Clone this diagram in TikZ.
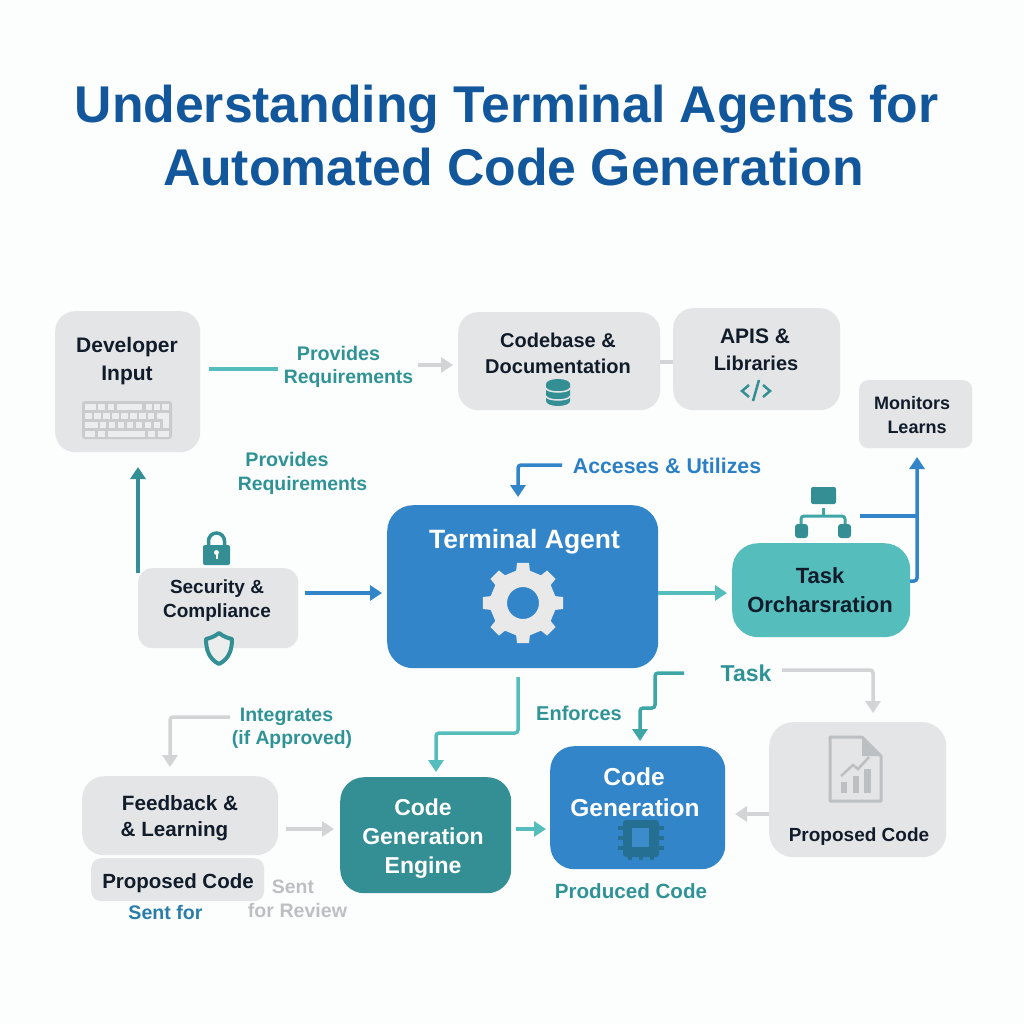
\documentclass[tikz,border=0pt]{standalone}
\usepackage{fontspec}
\setmainfont{Liberation Sans}
\usetikzlibrary{arrows.meta,positioning,calc}
\definecolor{titleblue}{HTML}{12579B}
\definecolor{boxgrey}{HTML}{E4E5E6}
\definecolor{ink}{HTML}{111C2B}
\definecolor{blueA}{HTML}{3285C8}
\definecolor{tealL}{HTML}{55BDBB}
\definecolor{tealM}{HTML}{3FA6A8}
\definecolor{tealD}{HTML}{338F94}
\definecolor{labT}{HTML}{2F9396}
\definecolor{labB}{HTML}{2A7FC6}
\definecolor{labS}{HTML}{2A7DAB}
\definecolor{arrG}{HTML}{D2D4D6}
\definecolor{iconG}{HTML}{BDC0C3}
\definecolor{keyB}{HTML}{C9CBCD}
\definecolor{keyL}{HTML}{ECEDEE}
\definecolor{gearG}{HTML}{E9E9E9}
\definecolor{chipD}{HTML}{256F93}
\tikzset{
  every node/.style={font=\bfseries,align=center,inner sep=0pt},
  greybox/.style={fill=boxgrey,text=ink},
  rbox/.style={rounded corners=#1,anchor=north west},
  txt/.style={anchor=base,font=\fontsize{#1}{24}\selectfont\bfseries},
  lbl/.style={anchor=base,font=\fontsize{#1}{24}\selectfont\bfseries,text=labT},
  conn/.style={line width=3.5pt,rounded corners=3pt},
  tip/.style={-{Triangle[length=12pt,width=15pt]}},
  gA/.style={conn,arrG},
  tA/.style={conn,tealL},
  mA/.style={conn,tealM},
  dA/.style={conn,tealD},
  bA/.style={conn,blueA},
}
\begin{document}
\begin{tikzpicture}[x=1pt,y=-1pt]
\useasboundingbox (0,0) rectangle (1024,1024);
\fill[white!98!tealL] (0,0) rectangle (1024,1024);
% title
\node[anchor=base,font=\fontsize{51.7}{62}\selectfont\bfseries,text=titleblue] (title1) at (506.5,123) {Understanding Terminal Agents for};
\node[anchor=base,font=\fontsize{51.7}{62}\selectfont\bfseries,text=titleblue] (title2) at (513.5,186) {Automated Code Generation};

% boxes
\node[greybox,rbox=20pt,minimum width=145pt,minimum height=141pt] (dev) at (55,311) {};
\node[greybox,rbox=20pt,minimum width=202pt,minimum height=98pt] (base) at (458,312) {};
\node[greybox,rbox=20pt,minimum width=167pt,minimum height=102pt] (api) at (673,308) {};
\node[greybox,rbox=9pt,minimum width=113pt,minimum height=68pt] (mon) at (859,380) {};
\node[greybox,rbox=14pt,minimum width=160pt,minimum height=80pt] (sec) at (138,568) {};
\node[fill=blueA,rbox=26pt,minimum width=271pt,minimum height=163pt] (agent) at (387,505) {};
\node[fill=tealL,rbox=26pt,minimum width=178pt,minimum height=94pt] (orch) at (732,543) {};
\node[greybox,rbox=22pt,minimum width=196pt,minimum height=79pt] (fb) at (82,776) {};
\node[greybox,rbox=10pt,minimum width=173pt,minimum height=43pt] (prop) at (91,858) {};
\node[fill=tealD,rbox=24pt,minimum width=171pt,minimum height=116pt] (engine) at (340,777) {};
\node[fill=blueA,rbox=24pt,minimum width=175pt,minimum height=123pt] (gen) at (550,746) {};
\node[greybox,rbox=24pt,minimum width=177pt,minimum height=135pt] (pc) at (769,722) {};

% box text
\node[txt=21,text=ink] (tdev1) at (127,352) {Developer};
\node[txt=21,text=ink] (tdev2) at (127,380) {Input};
\node[txt=20,text=ink] (tbase1) at (558,347) {Codebase \&};
\node[txt=20,text=ink] (tbase2) at (558,373) {Documentation};
\node[txt=21,text=ink] (tapi1) at (755,343) {APIS \&};
\node[txt=20,text=ink] (tapi2) at (756,370) {Libraries};
\node[txt=18,text=ink] (tmon1) at (912,409) {Monitors};
\node[txt=18,text=ink] (tmon2) at (917,433) {Learns};
\node[txt=19,text=ink] (tsec1) at (217,593) {Security \&};
\node[txt=19,text=ink] (tsec2) at (217,617) {Compliance};
\node[txt=26.5,text=white] (tag) at (524.5,548) {Terminal Agent};
\node[txt=22,text=ink] (tor1) at (820,583) {Task};
\node[txt=22,text=ink] (tor2) at (820,612) {Orcharsration};
\node[txt=20.7,text=ink] (tfb1) at (180,810) {Feedback \&};
\node[txt=20.6,text=ink] (tfb2) at (174.5,836) {\& Learning};
\node[txt=20.5,text=ink] (tpr) at (178,888) {Proposed Code};
\node[txt=23,text=white] (ten1) at (423,815) {Code};
\node[txt=23,text=white] (ten2) at (423,844) {Generation};
\node[txt=23,text=white] (ten3) at (423,873) {Engine};
\node[txt=24.5,text=white] (tgen1) at (634,785) {Code};
\node[txt=24.5,text=white] (tgen2) at (635,816) {Generation};
\node[txt=19,text=ink] (tpc) at (859,841) {Proposed Code};

% labels
\node[lbl=19.7] (l1a) at (338.5,360) {Provides};
\node[lbl=19.4] (l1b) at (348.5,383) {Requirements};
\node[lbl=19.7] (l2a) at (287,466) {Provides};
\node[lbl=19.4] (l2b) at (302.5,490) {Requirements};
\node[lbl=21.3,text=labB] (l3) at (667,473) {Acceses \& Utilizes};
\node[lbl=23] (l4) at (746,681) {Task};
\node[lbl=20] (l5) at (579,720) {Enforces};
\node[lbl=19.5] (l6a) at (286.5,721) {Integrates};
\node[lbl=19.3] (l6b) at (292,744) {(if Approved)};
\node[lbl=20.6] (l7) at (631,898) {Produced Code};
\node[lbl=19.4,text=iconG] (l8a) at (293,893) {Sent};
\node[lbl=19.6,text=iconG] (l8b) at (297.5,917) {for Review};
\node[lbl=19.6,text=labS] (l9) at (165.5,919) {Sent for};

% free ends of connectors
\coordinate (c1s) at (209,369);
\coordinate (c1e) at (278,369);
\coordinate (c2s) at (418,365);
\coordinate (c2e) at (453,365);
\coordinate (c3s) at (138,573);
\coordinate (c3e) at (138,467);
\coordinate (c4s) at (305,593);
\coordinate (c4e) at (382,593);
\coordinate (c5s) at (562,465);
\coordinate (c5e) at (518,497);
\coordinate (c6s) at (658,593);
\coordinate (c6e) at (727,593);
\coordinate (c7s) at (910,581);
\coordinate (c7e) at (917,457);
\coordinate (c8s) at (860,516);
\coordinate (c8e) at (917,516);
\coordinate (c9s) at (518,677);
\coordinate (c9b) at (436,733);
\coordinate (c9e) at (436,772);
\coordinate (c10s) at (684,673);
\coordinate (c10a) at (655,673);
\coordinate (c10b) at (655,708);
\coordinate (c10c) at (640,708);
\coordinate (c10e) at (640,741);
\coordinate (c11s) at (782,670);
\coordinate (c11e) at (873,713);
\coordinate (c12s) at (230,717);
\coordinate (c12e) at (170,767);
\coordinate (c13s) at (286,829);
\coordinate (c13e) at (334,829);
\coordinate (c14s) at (516,829);
\coordinate (c14e) at (546,829);
\coordinate (c15s) at (769,814);
\coordinate (c15e) at (735,814);
\coordinate (c16s) at (660,362);
\coordinate (c16e) at (673,362);

% connectors
\draw[tA] (c1s) -- (c1e);
\draw[gA,tip] (c2s) -- (c2e);
\draw[gA] (c16s) -- (c16e);
\draw[dA,tip] (c3s) -- (c3e);
\draw[bA,tip] (c4s) -- (c4e);
\draw[bA,tip] (c5s) -| (c5e);
\draw[tA,tip] (c6s) -- (c6e);
\draw[bA,tip] (c7s) -| (c7e);
\draw[bA] (c8s) -- (c8e);
\draw[tA,tip] (c9s) |- (c9b) -- (c9e);
\draw[mA,tip] (c10s) -- (c10a) -- (c10b) -- (c10c) -- (c10e);
\draw[gA,tip] (c11s) -| (c11e);
\draw[gA,tip] (c12s) -| (c12e);
\draw[gA,tip] (c13s) -- (c13e);
\draw[tA,tip] (c14s) -- (c14e);
\draw[gA,tip] (c15s) -- (c15e);

% keyboard icon
\fill[keyB,rounded corners=3pt] (82,401) rectangle (172,439);
\foreach \x/\w/\y in {
 85/11/404,98/7/404,108/6/404,117/25/404,146/6/404,154/6/404,162/7/404,
 85/7/413,94/7/413,103/7/413,112/7/413,121/7/413,130/7/413,139/7/413,148/6/413,
 85/13/422,100/6/422,109/6/422,118/6/422,127/6/422,136/6/422,145/6/422,154/6/422,
 85/10/431,98/7/431,108/37/431,148/7/431,158/11/431}
  \fill[keyL] (\x,\y) rectangle ++(\w,5.5);
\fill[keyL] (157,413) rectangle (169,418.5);
\fill[keyL] (163,413) rectangle (169,427.5);

% database icon
\fill[tealD] (546,384) arc[start angle=180,end angle=360,x radius=12,y radius=5]
  -- (570,401) arc[start angle=0,end angle=180,x radius=12,y radius=5] -- cycle;
\draw[boxgrey,line width=1.5pt] (546,388) arc[start angle=180,end angle=0,x radius=12,y radius=4];
\draw[boxgrey,line width=1.5pt] (546,396) arc[start angle=180,end angle=0,x radius=12,y radius=4];

% code icon
\draw[tealD,line width=2.5pt] (749,385) -- (742,391) -- (749,397);
\draw[tealD,line width=2.5pt] (763,385) -- (770,391) -- (763,397);
\draw[tealD,line width=2.5pt] (759,380) -- (753,401);

% lock icon
\draw[tealD,line width=3.5pt] (208.5,548) -- (208.5,541) arc[start angle=180,end angle=360,x radius=8,y radius=8] -- (224.5,548);
\fill[tealD,rounded corners=2pt] (203,545) rectangle (230,565);
\fill[white] (216.5,552.5) circle (2.5);
\fill[white] (215.5,553) rectangle (217.5,559);

% shield icon
\draw[tealD,line width=4pt,line join=round,fill=boxgrey!70!white]
  (219,633) .. controls (224,637) and (228,638) .. (232,639)
  .. controls (232,650) and (229,659) .. (219,664)
  .. controls (209,659) and (206,650) .. (206,639)
  .. controls (210,638) and (214,637) .. (219,633) -- cycle;

% gear icon
\coordinate (gc) at (523,603);
\fill[gearG,even odd rule]
  ($(gc)+(-12:33)$)
  \foreach \a in {0,45,...,315}{
    -- ($(gc)+(\a-12:33)$) -- ($(gc)+(\a-8.5:40.5)$) -- ($(gc)+(\a+8.5:40.5)$) -- ($(gc)+(\a+12:33)$) -- ($(gc)+(\a+33:33)$)
  } -- cycle
  (gc) circle (16);

% org-chart icon
\fill[tealD,rounded corners=2pt] (811,487) rectangle (836,504);
\draw[tealM,line width=3pt,rounded corners=3pt] (801,525) -- (801,516) -- (845,516) -- (845,525);
\draw[tealM,line width=3pt] (823,508) -- (823,516);
\fill[tealD,rounded corners=3pt] (795,524) rectangle (808,538);
\fill[tealD,rounded corners=3pt] (838,524) rectangle (851,538);

% chip icon
\foreach \yy in {828,838,848}{
  \fill[chipD] (618,\yy-2) rectangle (664,\yy+2);
}
\foreach \xx in {630,641,652}{
  \fill[chipD] (\xx-2,850) rectangle (\xx+2,860);
}
\fill[chipD,rounded corners=3pt] (623,820) rectangle (659,857);
\fill[blueA!95!white] (632,828) rectangle (649,847);

% document icon
\draw[iconG,line width=3pt,line join=round] (830,737) -- (862,737) -- (881,756) -- (881,801) -- (830,801) -- cycle;
\fill[iconG] (862,737) -- (881,756) -- (862,756) -- cycle;
\draw[iconG,line width=2.6pt] (841,776) -- (853,765) -- (858,769) -- (869,757);
\fill[iconG] (841,782) rectangle (847,793);
\fill[iconG] (853,776) rectangle (859,793);
\fill[iconG] (864,769) rectangle (871,793);
\end{tikzpicture}
\end{document}
